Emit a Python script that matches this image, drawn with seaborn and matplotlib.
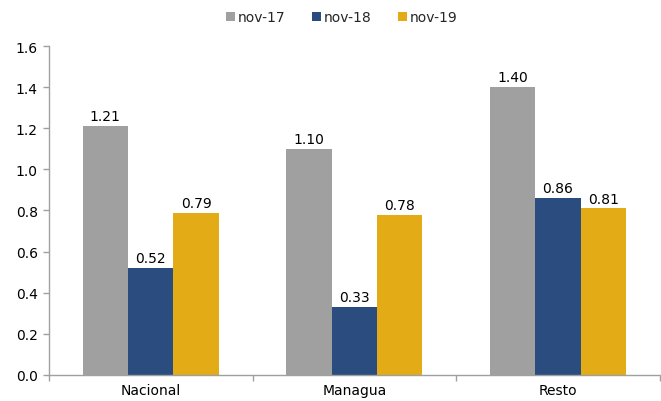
import pandas as pd
import matplotlib
matplotlib.use("Agg")
import matplotlib.pyplot as plt
import seaborn as sns

categories = ["Nacional", "Managua", "Resto"]
periods = ["nov-17", "nov-18", "nov-19"]
values_nov17 = [1.21, 1.10, 1.40]
values_nov18 = [0.52, 0.33, 0.86]
values_nov19 = [0.79, 0.78, 0.81]
colors = ["#A0A0A0", "#2B4C7E", "#E3AC17"]

rows = []
for period, vals in zip(periods, [values_nov17, values_nov18, values_nov19]):
    for cat, v in zip(categories, vals):
        rows.append({"Zona": cat, "Periodo": period, "Valor": v})
df = pd.DataFrame(rows)

sns.set_style("white")
plt.rcParams["font.family"] = ["DejaVu Sans"]
fs = 10

fig = plt.figure(figsize=(6.61, 4.02), dpi=100)
ax = fig.add_axes([0.074, 0.065, 0.924, 0.818])

sns.barplot(data=df, x="Zona", y="Valor", hue="Periodo", palette=colors,
            width=0.67, gap=0, saturation=1, ax=ax, edgecolor="none")

for container in ax.containers:
    ax.bar_label(container, fmt="%.2f", padding=2, fontsize=fs, color="#000000")

ax.set_ylim(0, 1.6)
ax.set_xlim(-0.5, 2.5)
ax.set_yticks([0, 0.2, 0.4, 0.6, 0.8, 1.0, 1.2, 1.4, 1.6])
ax.set_yticklabels([f"{t:.1f}" for t in ax.get_yticks()], fontsize=fs)
ax.set_xticks([0, 1, 2])
ax.set_xticklabels(categories, fontsize=fs)
ax.set_xticks([-0.5, 0.5, 1.5, 2.5], minor=True)
ax.tick_params(axis="x", which="major", bottom=False, length=0, pad=6,
               labelcolor="#000000")
ax.tick_params(axis="x", which="minor", bottom=True, length=4, width=1,
               color="#A0A0A0", direction="out")
ax.tick_params(axis="y", left=True, length=4, width=1, color="#A0A0A0",
               direction="out", pad=4, labelcolor="#000000")
ax.set_xlabel("")
ax.set_ylabel("")

for side in ["top", "right"]:
    ax.spines[side].set_visible(False)
for side in ["left", "bottom"]:
    ax.spines[side].set_color("#A0A0A0")
    ax.spines[side].set_linewidth(1)

handles, labels = ax.get_legend_handles_labels()
ax.get_legend().remove()
fig.legend(handles, labels, loc="center", bbox_to_anchor=(0.517, 0.955), ncol=3,
           frameon=False, fontsize=fs, handlelength=0.65, handleheight=0.65,
           handletextpad=0.2, columnspacing=1.9)

fig.savefig("out.png", dpi=100)
